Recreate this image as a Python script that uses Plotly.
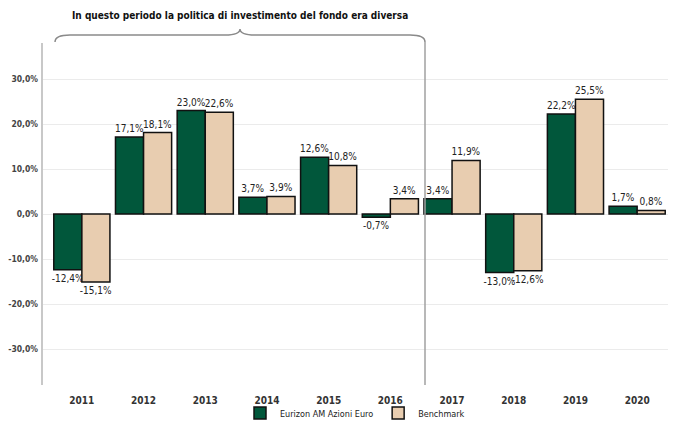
import plotly.graph_objects as go

years = ["2011", "2012", "2013", "2014", "2015", "2016", "2017", "2018", "2019", "2020"]
fund = [-12.4, 17.1, 23.0, 3.7, 12.6, -0.7, 3.4, -13.0, 22.2, 1.7]
bench = [-15.1, 18.1, 22.6, 3.9, 10.8, 3.4, 11.9, -12.6, 25.5, 0.8]
fund_name = "Eurizon AM Azioni Euro"
bench_name = "Benchmark"
yticks = [-30, -20, -10, 0, 10, 20, 30]
note = "In questo periodo la politica di investimento del fondo era diversa"

FONT = "DejaVu Sans Condensed, Liberation Sans, Arial"
GREEN = "#01573b"
BEIGE = "#e8cdb0"

def fmt(v):
    return f"{v:.1f}".replace(".", ",") + "%"

fig = go.Figure()
for name, vals, col in [(fund_name, fund, GREEN), (bench_name, bench, BEIGE)]:
    fig.add_trace(go.Bar(
        x=years, y=vals, name=name,
        marker=dict(color=col, line=dict(color="#111111", width=1.5)),
        text=[fmt(v) for v in vals], textposition="outside", constraintext="none",
        textfont=dict(size=10, color="#222222", family=FONT),
        cliponaxis=False,
    ))

OFF = 8  # page body margin
W, H = 677 - OFF, 423 - OFF
ml, mr, mt, mb = 42 - OFF, 9, 43 - OFF, 38
pw, ph = W - ml - mr, H - mt - mb

def px(x):
    return (x - OFF - ml) / pw

def py(y):
    return (H - mb - (y - OFF)) / ph

# brace
pts = [("M", 55, 42), ("Q", 55, 35, 70, 35), ("L", 225, 35), ("Q", 240, 35, 240, 29),
       ("Q", 240, 35, 255, 35), ("L", 410, 35), ("Q", 425, 35, 425, 42)]
path = ""
for p in pts:
    cmd = p[0]
    coords = p[1:]
    s = " ".join(f"{px(coords[i]):.4f},{py(coords[i+1]):.4f}" for i in range(0, len(coords), 2))
    path += f"{cmd} {s} "

fig.add_shape(type="path", path=path.strip(), xref="paper", yref="paper",
              line=dict(color="#8a8a8a", width=1.5))
fig.add_shape(type="line", xref="paper", yref="paper", x0=px(425), x1=px(425), y0=0, y1=py(42),
              line=dict(color="#a0a0a0", width=1.5))
fig.add_shape(type="line", xref="paper", yref="paper", x0=0, x1=0, y0=0, y1=1,
              line=dict(color="#c8c8c8", width=2))

fig.add_annotation(text=f"<b>{note}</b>", xref="paper", yref="paper", x=px(240), y=py(16),
                   xanchor="center", yanchor="middle",
                   showarrow=False, font=dict(size=10, color="#111111", family=FONT))

fig.update_layout(
    width=W, height=H,
    margin=dict(l=ml, r=mr, t=mt, b=mb, pad=0, autoexpand=False),
    paper_bgcolor="white", plot_bgcolor="white",
    barmode="group", bargap=0.09, bargroupgap=0,
    font=dict(family=FONT),
    showlegend=True,
    legend=dict(orientation="h", x=0.5, xanchor="center", y=py(413), yanchor="middle",
                font=dict(size=9, color="#222222", family=FONT), bgcolor="rgba(0,0,0,0)",
                itemwidth=30, tracegroupgap=0),
)
fig.update_xaxes(range=[-0.646, 9.5], showgrid=False, showline=False, ticks="", automargin=False,
                 tickfont=dict(size=10, color="#333333", family=FONT), ticklabelstandoff=8,
                 tickprefix="<b>", ticksuffix="</b>")
fig.update_yaxes(range=[-38, 38], tickvals=yticks, ticktext=[f"<b>{fmt(v)}</b>" for v in yticks],
                 showgrid=True, gridcolor="#ebebeb", gridwidth=1, zeroline=False, automargin=False,
                 tickfont=dict(size=8.5, color="#444444", family=FONT), ticks="", ticklabelstandoff=3)

fig.write_html("out.html")
